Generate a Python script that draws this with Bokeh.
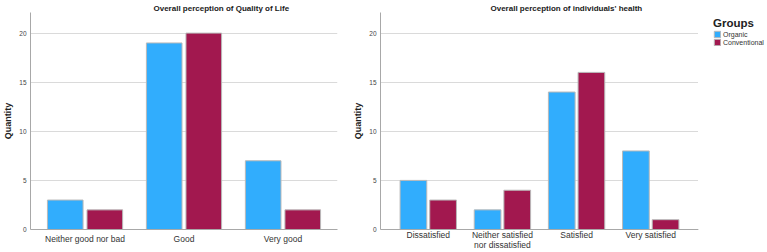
from bokeh.plotting import figure
from bokeh.models import ColumnDataSource, FactorRange, Range1d, FixedTicker, Legend, LegendItem
from bokeh.transform import dodge
from bokeh.layouts import row
from bokeh.embed import file_html
from bokeh.resources import INLINE

# Overall perception of Quality of Life
qol_categories = ["Neither good nor bad", "Good", "Very good"]
qol_organic = [3, 19, 7]
qol_conventional = [2, 20, 2]

# Overall perception of individuals' health
health_categories = ["Dissatisfied", "Neither satisfied\nnor dissatisfied", "Satisfied", "Very satisfied"]
health_organic = [5, 2, 14, 8]
health_conventional = [3, 4, 16, 1]

groups = ["Organic", "Conventional"]
y_ticks = [0, 5, 10, 15, 20]

BLUE = "#31adfd"
CRIMSON = "#a2184f"
EDGE = "#b9b9b9"
FONT = "Liberation Sans"


def make_panel(title, title_offset, cats, organic, conventional, pad, width, left, right,
               label_standoff):
    src = ColumnDataSource(dict(cat=cats, org=organic, conv=conventional))
    p = figure(x_range=FactorRange(*cats, range_padding=pad),
               y_range=Range1d(0, 22.1),
               width=width, height=252,
               min_border_left=left, min_border_right=right,
               min_border_top=12, min_border_bottom=23,
               output_backend="svg", toolbar_location=None,
               background_fill_color="white", border_fill_color="white")
    p.outline_line_color = None
    p.vbar(x=dodge("cat", -0.2, range=p.x_range), top="org", width=0.36,
           source=src, fill_color=BLUE, line_color=EDGE, line_width=1)
    p.vbar(x=dodge("cat", 0.2, range=p.x_range), top="conv", width=0.36,
           source=src, fill_color=CRIMSON, line_color=EDGE, line_width=1)

    p.title.text = title
    p.title.align = "left"
    p.title.offset = title_offset
    p.title.text_font = FONT
    p.title.text_font_size = "8px"
    p.title.text_font_style = "bold"
    p.title.text_color = "#1a1a1a"
    p.title.text_line_height = 1.0
    p.title.standoff = 0

    p.xgrid.grid_line_color = None
    p.ygrid.grid_line_color = "#dadada"
    p.ygrid.grid_line_width = 1

    p.yaxis.ticker = FixedTicker(ticks=y_ticks)
    p.yaxis.axis_label = "Quantity"
    p.yaxis.axis_label_text_font = FONT
    p.yaxis.axis_label_text_font_size = "9px"
    p.yaxis.axis_label_text_font_style = "bold"
    p.yaxis.axis_label_text_color = "#222222"
    p.yaxis.axis_label_standoff = 3
    p.yaxis.major_label_text_font = FONT
    p.yaxis.major_label_text_font_size = "6.5px"
    p.yaxis.major_label_text_color = "#444444"
    p.yaxis.major_label_standoff = 4
    p.yaxis.major_tick_out = 0
    p.yaxis.major_tick_in = 0
    p.yaxis.minor_tick_out = 0
    p.yaxis.minor_tick_in = 0
    p.yaxis.axis_line_color = "#a8a8a8"

    p.xaxis.major_label_text_font = FONT
    p.xaxis.major_label_text_font_size = "8.5px"
    p.xaxis.major_label_text_color = "#333333"
    p.xaxis.major_label_text_line_height = 1.0
    p.xaxis.major_label_standoff = label_standoff
    p.xaxis.major_tick_out = 0
    p.xaxis.major_tick_in = 0
    p.xaxis.minor_tick_out = 0
    p.xaxis.minor_tick_in = 0
    p.xaxis.axis_line_color = "#a8a8a8"
    return p


left = make_panel("Overall perception of Quality of Life", 123, qol_categories,
                  qol_organic, qol_conventional, 0.034, 345, 27, 8, 4)
right = make_panel("Overall perception of individuals' health", 110, health_categories,
                   health_organic, health_conventional, 0.072, 353, 35, 0, 0)

# narrow side panel holding the group legend
key = figure(width=69, height=252, min_border=0, output_backend="svg",
             toolbar_location=None, x_range=Range1d(0, 1), y_range=Range1d(0, 1))
key.outline_line_color = None
key.axis.visible = False
key.grid.visible = False
# swatch renderers sit outside the visible range; only their legend glyphs show
swatch_src = ColumnDataSource(dict(x=[-1.0], top=[0.0]))
sw_org = key.vbar(x="x", top="top", width=0.1, source=swatch_src,
                  fill_color=BLUE, line_color=EDGE, line_width=1)
sw_conv = key.vbar(x="x", top="top", width=0.1, source=swatch_src,
                   fill_color=CRIMSON, line_color=EDGE, line_width=1)

legend = Legend(items=[LegendItem(label=groups[0], renderers=[sw_org]),
                       LegendItem(label=groups[1], renderers=[sw_conv])],
                title="Groups")
legend.title_text_font = FONT
legend.title_text_font_size = "11.5px"
legend.title_text_font_style = "bold"
legend.title_text_color = "#222222"
legend.title_standoff = 1
legend.label_text_font = FONT
legend.label_text_font_size = "7px"
legend.label_text_color = "#333333"
legend.label_height = 8
legend.label_standoff = 2
legend.glyph_width = 8
legend.glyph_height = 8
legend.spacing = 0
legend.padding = 0
legend.margin = 0
legend.border_line_color = None
legend.background_fill_alpha = 0
legend.location = (15, 183)
key.add_layout(legend)

layout = row(left, right, key)

open("out.html", "w").write(file_html(layout, INLINE))
